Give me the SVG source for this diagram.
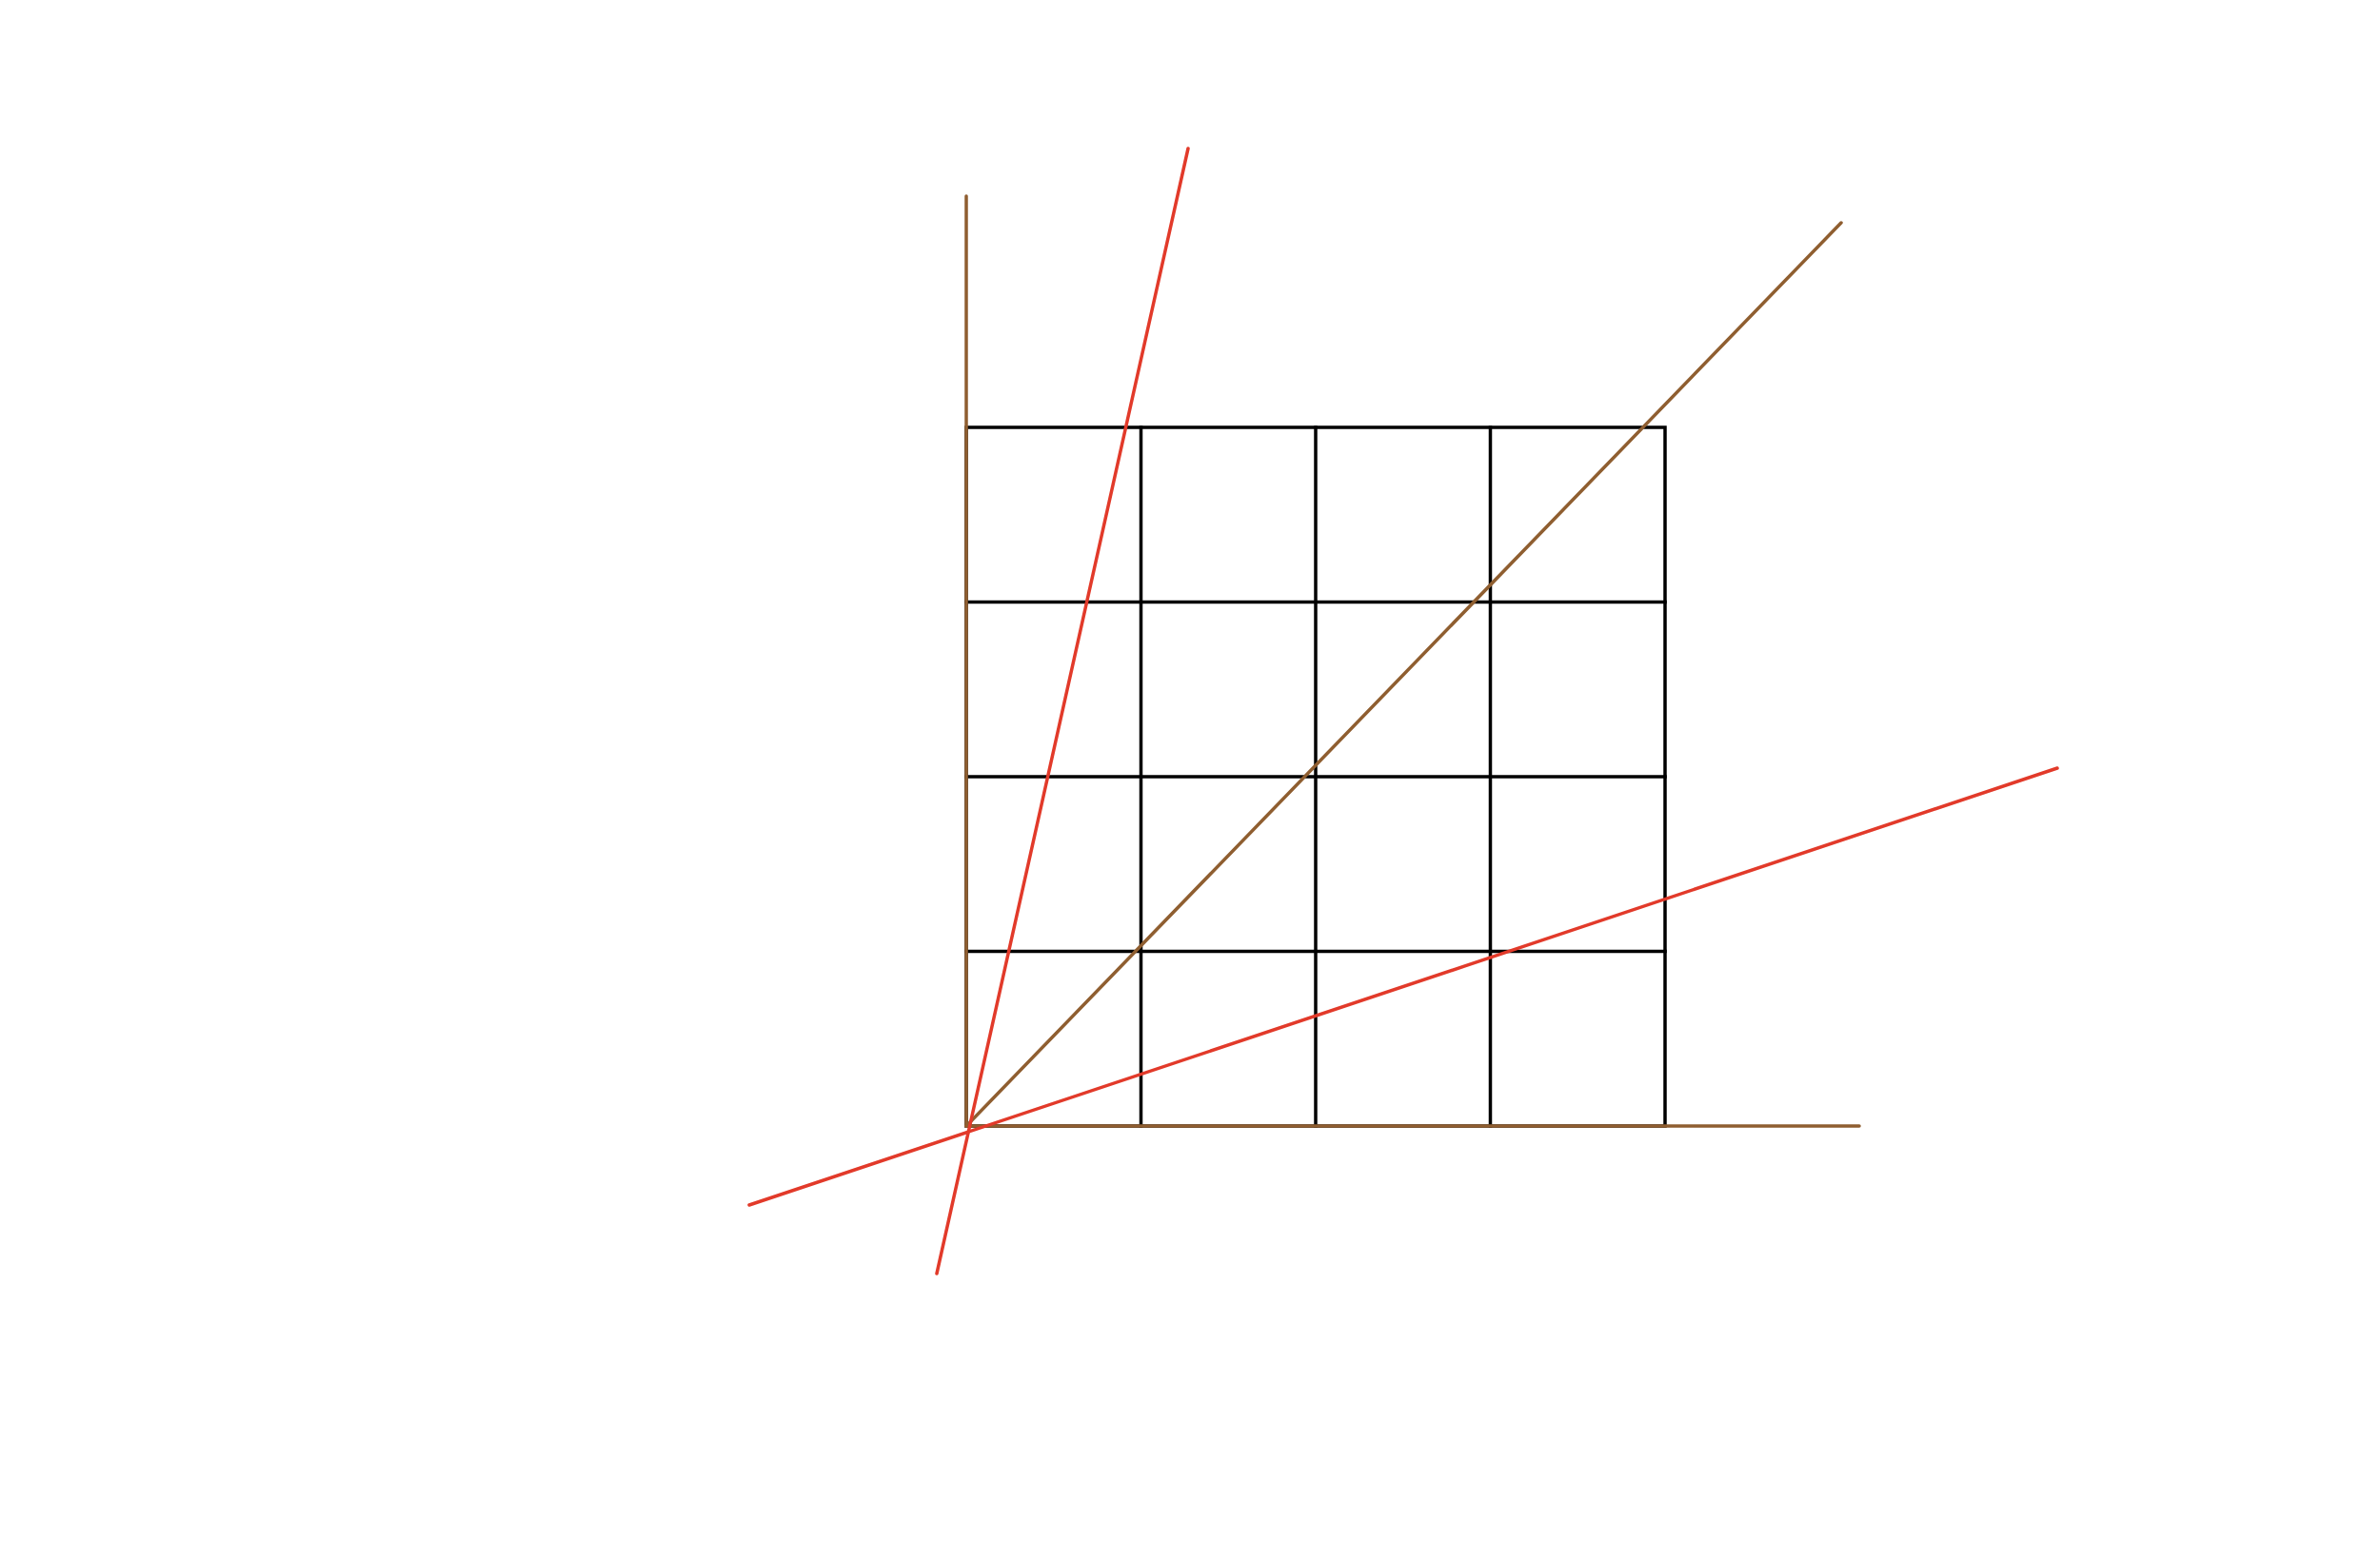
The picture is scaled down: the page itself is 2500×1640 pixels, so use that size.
<svg xmlns="http://www.w3.org/2000/svg" width="2500" height="1640" viewBox="0 0 2500 1640">
<style>
.grid{stroke:#000;stroke-width:3.5;fill:none;stroke-linecap:square}
.axis{stroke:#8f5e30;stroke-width:3.5;fill:none;stroke-linecap:round}
.red{stroke:#e23a2a;stroke-width:3.5;fill:none;stroke-linecap:round}
</style>
<rect width="2500" height="1640" fill="#fff"/>
<g id="grid">
<rect class="grid" x="1015" y="449" width="734" height="734"/>
<line class="grid" x1="1198.5" y1="449" x2="1198.5" y2="1183"/>
<line class="grid" x1="1382" y1="449" x2="1382" y2="1183"/>
<line class="grid" x1="1565.5" y1="449" x2="1565.5" y2="1183"/>
<line class="grid" x1="1015" y1="632.5" x2="1749" y2="632.5"/>
<line class="grid" x1="1015" y1="816" x2="1749" y2="816"/>
<line class="grid" x1="1015" y1="999.5" x2="1749" y2="999.5"/>
</g>
<g id="connectors">
<line class="axis" x1="1015" y1="1183" x2="1015" y2="206"/>
<line class="axis" x1="1015" y1="1183" x2="1953" y2="1183"/>
<line class="axis" x1="1015" y1="1183" x2="1934" y2="234"/>
<line class="red" x1="984" y1="1338" x2="1248" y2="156"/>
<line class="red" x1="787" y1="1266" x2="2161" y2="807"/>
</g>
</svg>
